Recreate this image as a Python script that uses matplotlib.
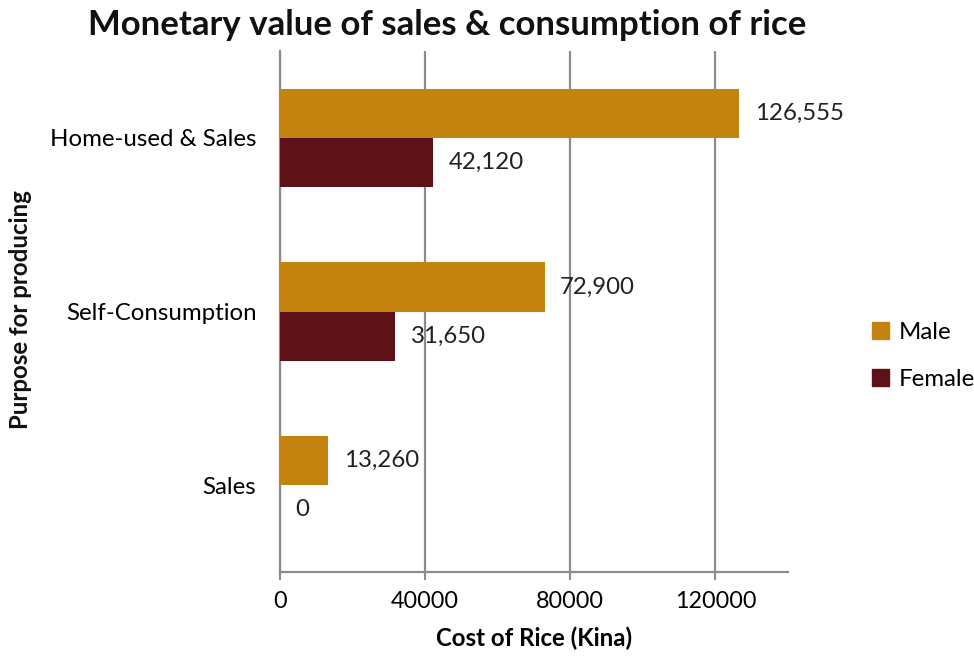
import numpy as np
import matplotlib.pyplot as plt
from matplotlib.patches import Patch

plt.rcParams['font.family'] = ['Lato', 'DejaVu Sans']

# purpose categories, top to bottom
purposes = ['Home-used & Sales', 'Self-Consumption', 'Sales']
male = [126555, 72900, 13260]
female = [42120, 31650, 0]

c_male = '#C4820F'
c_female = '#5E1217'
grid_c = '#8C8C8C'
fs = 17.3

fig = plt.figure(figsize=(9.74, 6.59), dpi=100)
ax = fig.add_axes([0.2875, 0.132, 0.5215, 0.7906])

y = np.arange(len(purposes))
h = 0.283
ax.barh(y - h / 2, male, height=h, color=c_male, zorder=3)
ax.barh(y + h / 2, female, height=h, color=c_female, zorder=3)

for yi, v in zip(y - h / 2, male):
    ax.text(v + 4300, yi, f'{v:,}', va='center', ha='left', fontsize=fs, color='#222222')
for yi, v in zip(y + h / 2, female):
    ax.text(v + 4300, yi, f'{v:,}', va='center', ha='left', fontsize=fs, color='#222222')

ax.set_xlim(0, 140000)
ax.set_ylim(2.5, -0.5)
ax.set_xticks([0, 40000, 80000, 120000])
ax.set_yticks(y)
ax.set_yticklabels(purposes)
ax.tick_params(axis='x', length=6, width=1.5, color=grid_c, labelsize=fs - 0.5, pad=8)
ax.tick_params(axis='y', length=0, labelsize=fs, pad=17)
ax.grid(axis='x', color=grid_c, linewidth=1.6, zorder=0)

for s in ['top', 'right']:
    ax.spines[s].set_visible(False)
for s in ['left', 'bottom']:
    ax.spines[s].set_color(grid_c)
    ax.spines[s].set_linewidth(1.6)

ax.set_xlabel('Cost of Rice (Kina)', fontsize=fs, fontweight='bold', labelpad=10)
fig.text(0.021, 0.53, 'Purpose for producing', rotation=90, ha='center', va='center',
         fontsize=fs, fontweight='bold', color='#111111')
fig.text(0.459, 0.962, 'Monetary value of sales & consumption of rice', ha='center', va='center',
         fontsize=25, fontweight='bold', color='#111111')

handles = [Patch(color=c_male, label='Male'), Patch(color=c_female, label='Female')]
fig.legend(handles=handles, loc='center left', bbox_to_anchor=(0.873, 0.46), frameon=False,
           fontsize=fs, handlelength=0.7, handleheight=0.7, handletextpad=0.4, labelspacing=1.1)

fig.savefig('out.png', dpi=100)
